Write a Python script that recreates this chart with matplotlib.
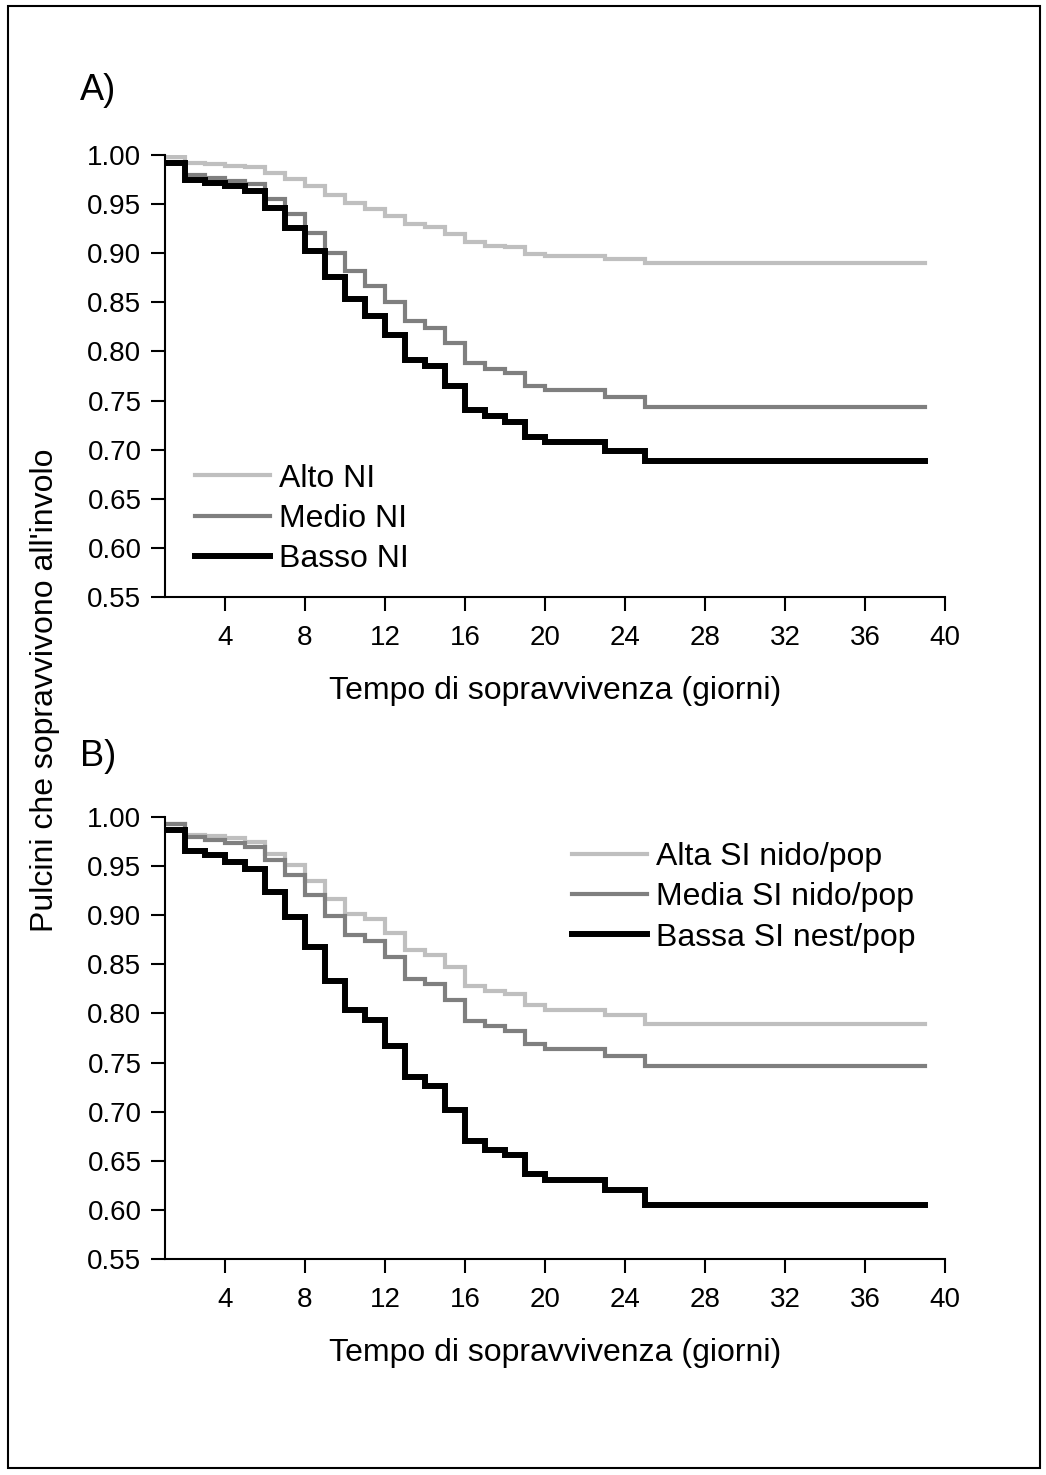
import matplotlib
matplotlib.use("Agg")
import matplotlib.pyplot as plt
from matplotlib.patches import Rectangle

plt.rcParams['font.family'] = ['Liberation Sans', 'DejaVu Sans']

# ---------------- data ----------------
days = [1, 2, 3, 4, 5, 6, 7, 8, 9, 10, 11, 12, 13, 14, 15, 16, 17, 18, 19, 20,
        21, 22, 23, 24, 25, 39]

alto_ni = [0.998, 0.992, 0.9905, 0.989, 0.988, 0.982, 0.9756, 0.9685, 0.959, 0.9516,
           0.945, 0.938, 0.930, 0.9265, 0.9197, 0.911, 0.9075, 0.906, 0.8994, 0.8974,
           0.8974, 0.8974, 0.894, 0.894, 0.890, 0.890]
medio_ni = [0.993, 0.980, 0.977, 0.974, 0.970, 0.955, 0.940, 0.921, 0.900, 0.882,
            0.867, 0.850, 0.8306, 0.824, 0.809, 0.788, 0.7826, 0.778, 0.7653, 0.7605,
            0.7605, 0.7605, 0.7534, 0.7534, 0.7436, 0.7436]
basso_ni = [0.992, 0.975, 0.972, 0.9685, 0.963, 0.946, 0.9255, 0.902, 0.876, 0.853,
            0.836, 0.817, 0.7917, 0.785, 0.765, 0.740, 0.734, 0.7284, 0.713, 0.7077,
            0.7077, 0.7077, 0.699, 0.699, 0.6884, 0.6884]

alta_si = [0.9932, 0.982, 0.9807, 0.9786, 0.9745, 0.9627, 0.951, 0.9345, 0.917, 0.9016,
           0.8962, 0.882, 0.8643, 0.860, 0.8473, 0.8277, 0.823, 0.8195, 0.8083, 0.804,
           0.804, 0.804, 0.798, 0.798, 0.7897, 0.7897]
media_si = [0.993, 0.9796, 0.977, 0.974, 0.9695, 0.956, 0.9407, 0.921, 0.8995, 0.880,
            0.874, 0.857, 0.8355, 0.8297, 0.8134, 0.792, 0.787, 0.782, 0.7686, 0.7642,
            0.7642, 0.7642, 0.7564, 0.7564, 0.7462, 0.7462]
bassa_si = [0.987, 0.965, 0.961, 0.9542, 0.9475, 0.9237, 0.898, 0.868, 0.833, 0.803,
            0.7937, 0.767, 0.735, 0.7258, 0.7014, 0.670, 0.6614, 0.6563, 0.637, 0.630,
            0.630, 0.630, 0.620, 0.620, 0.6054, 0.6054]

labels_a = ["Alto NI", "Medio NI", "Basso NI"]
labels_b = ["Alta SI nido/pop", "Media SI nido/pop", "Bassa SI nest/pop"]
xticks = [4, 8, 12, 16, 20, 24, 28, 32, 36, 40]
yticks = [0.55, 0.60, 0.65, 0.70, 0.75, 0.80, 0.85, 0.90, 0.95, 1.00]

colors = ["#bfbfbf", "#7f7f7f", "#000000"]
widths = [3.0, 3.0, 4.3]

W, H = 1046, 1475
fig = plt.figure(figsize=(W / 100, H / 100), dpi=100)
fig.patch.set_facecolor("white")

# outer frame
fig.patches.append(Rectangle((8 / W, 1 - 1468 / H), (1040 - 8) / W, (1468 - 6) / H,
                             transform=fig.transFigure, fill=False,
                             edgecolor="black", linewidth=1.5))

LBL = 23


def make_axes(top_px, series, labels, leg_anchor):
    left = 165 / W
    right = 945 / W
    bottom = 1 - (top_px + 442) / H
    ax = fig.add_axes([left, bottom, right - left, 442 / H])
    for vals, lab, c, lw in zip(series, labels, colors, widths):
        ax.step(days, vals, where="post", color=c, lw=lw, label=lab,
                solid_joinstyle="miter")
    ax.set_xlim(1, 40)
    ax.set_ylim(0.55, 1.00)
    ax.set_xticks(xticks)
    ax.set_yticks(yticks)
    ax.set_yticklabels([f"{v:.2f}" for v in yticks])
    for s in ["top", "right"]:
        ax.spines[s].set_visible(False)
    for s in ["left", "bottom"]:
        ax.spines[s].set_linewidth(1.5)
    ax.tick_params(axis="both", length=10, width=1.5, labelsize=20)
    ax.tick_params(axis="y", pad=7)
    ax.tick_params(axis="x", pad=10)
    ax.set_xlabel("Tempo di sopravvivenza (giorni)", fontsize=LBL, labelpad=18)
    ax.legend(loc="center left", bbox_to_anchor=leg_anchor, frameon=False,
              fontsize=LBL, handlelength=2.35, handletextpad=0.28,
              labelspacing=0.32, borderpad=0, borderaxespad=0)
    return ax


ax_a = make_axes(155, [alto_ni, medio_ni, basso_ni], labels_a, (0.038, 0.177))
ax_b = make_axes(817, [alta_si, media_si, bassa_si], labels_b, (0.522, 0.818))

fig.text(80 / W, 1 - 90 / H, "A)", fontsize=26, ha="left", va="center")
fig.text(80 / W, 1 - 757 / H, "B)", fontsize=26, ha="left", va="center")
fig.text(45 / W, 1 - 690 / H, "Pulcini che sopravvivono all'involo", fontsize=LBL,
         rotation=90, ha="center", va="center")

fig.savefig("out.png", dpi=100, facecolor="white")
